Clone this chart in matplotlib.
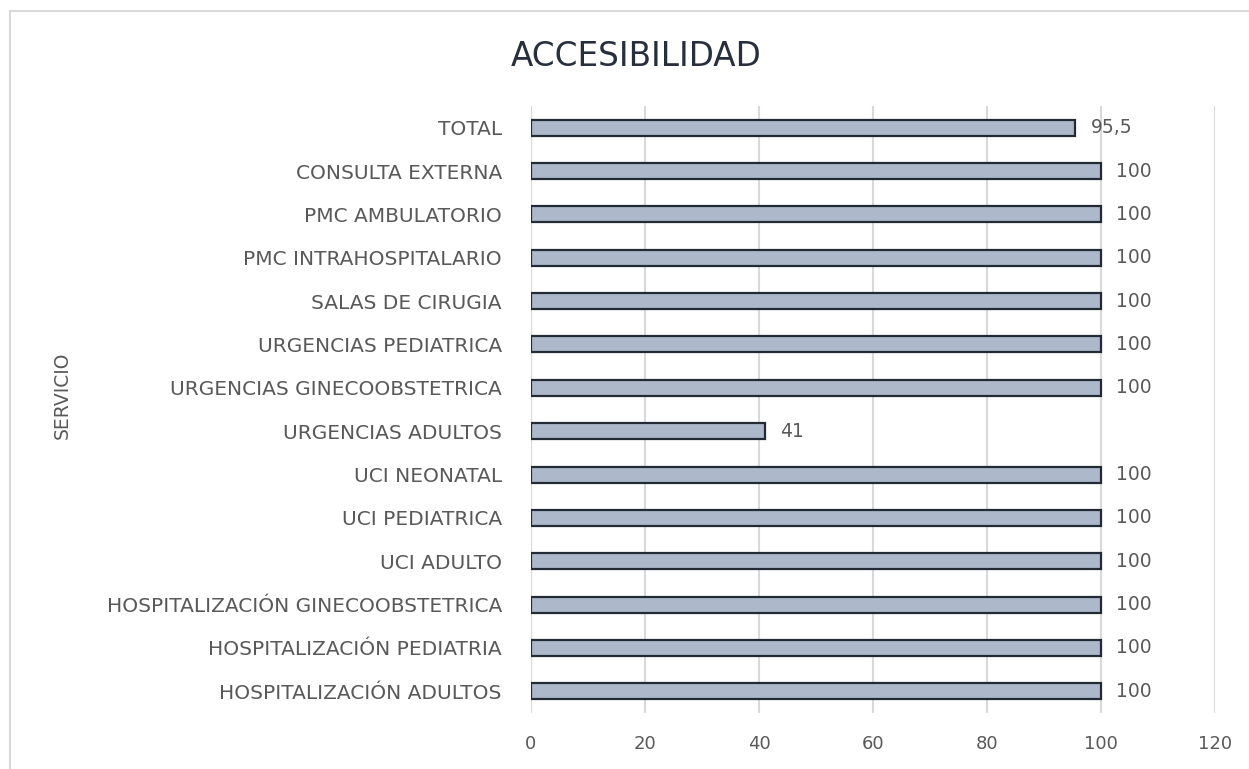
import matplotlib
matplotlib.use("Agg")
import matplotlib.pyplot as plt
from matplotlib.patches import Rectangle

plt.rcParams['font.family'] = ['DejaVu Sans']

categories = [
    "HOSPITALIZACIÓN ADULTOS",
    "HOSPITALIZACIÓN PEDIATRIA",
    "HOSPITALIZACIÓN GINECOOBSTETRICA",
    "UCI ADULTO",
    "UCI PEDIATRICA",
    "UCI NEONATAL",
    "URGENCIAS ADULTOS",
    "URGENCIAS GINECOOBSTETRICA",
    "URGENCIAS PEDIATRICA",
    "SALAS DE CIRUGIA",
    "PMC INTRAHOSPITALARIO",
    "PMC AMBULATORIO",
    "CONSULTA EXTERNA",
    "TOTAL",
]
values = [100, 100, 100, 100, 100, 100, 41, 100, 100, 100, 100, 100, 100, 95.5]
value_labels = ["100", "100", "100", "100", "100", "100", "41", "100", "100", "100", "100", "100", "100", "95,5"]
xticks = [0, 20, 40, 60, 80, 100, 120]

W, H = 1249, 769
fig = plt.figure(figsize=(W / 100, H / 100), dpi=100)
fig.patch.set_facecolor("white")

fig.add_artist(Rectangle((10 / W, -0.1), 1.2, (H - 11) / H + 0.1, transform=fig.transFigure,
                         fill=False, edgecolor="#D9D9D9", linewidth=1.5))

ax = fig.add_axes([531 / W, 1 - 713 / H, (1215 - 531) / W, (713 - 106) / H])
y = list(range(len(categories)))
ax.barh(y, values, height=0.37, color="#ADB9CA", edgecolor="#222A35", linewidth=1.6, zorder=3)
ax.set_ylim(-0.5, len(categories) - 0.5)
ax.set_xlim(0, 120)
ax.set_xticks(xticks)
ax.set_xticklabels([str(t) for t in xticks])
ax.set_yticks(y)
ax.set_yticklabels(categories)
for s in ax.spines.values():
    s.set_visible(False)
ax.grid(axis="x", color="#D9D9D9", linewidth=1.5, zorder=0)
ax.tick_params(axis="both", length=0, colors="#595959")
ax.tick_params(axis="x", pad=16, labelsize=13)
ax.tick_params(axis="y", pad=21, labelsize=14.5)
for yi, v, lab in zip(y, values, value_labels):
    ax.annotate(lab, (v, yi), xytext=(11, 0), textcoords="offset points",
                va="center", ha="left", fontsize=13.5, color="#595959", zorder=4)

fig.text(62 / W, 1 - 395 / H, "SERVICIO", rotation=90, ha="center", va="center",
         fontsize=13.5, color="#595959")

fig.text(636 / W, 1 - 57 / H, "ACCESIBILIDAD", ha="center", va="center",
         fontsize=23.5, color="#262F3B")

fig.savefig("out.png", dpi=100)
